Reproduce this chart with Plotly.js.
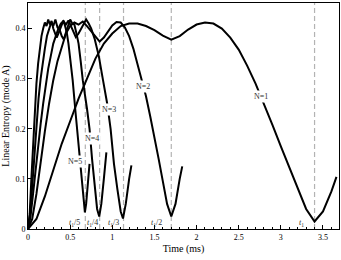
<!DOCTYPE html>
<html><head><meta charset="utf-8">
<script src="https://cdn.plot.ly/plotly-3.0.1.min.js"></script>
<style>html,body{margin:0;padding:0;background:#fff;} #chart{width:341px;height:260px;}</style>
</head><body><div id="chart"></div>
<script>
// Time (ms) and linear entropy values
const t_N1 = [0, 0.1, 0.2, 0.3, 0.4, 0.5, 0.6, 0.7, 0.8, 0.9, 1.0, 1.1, 1.2, 1.3, 1.4, 1.5, 1.6, 1.7, 1.8, 1.9, 2.0, 2.1, 2.2, 2.3, 2.4, 2.5, 2.6, 2.7, 2.8, 2.9, 3.0, 3.1, 3.2, 3.3, 3.4, 3.5, 3.6, 3.66];
const y_N1 = [0, 0.02, 0.065, 0.12, 0.17, 0.215, 0.26, 0.3, 0.34, 0.37, 0.39, 0.405, 0.41, 0.41, 0.405, 0.397, 0.386, 0.378, 0.385, 0.398, 0.408, 0.412, 0.41, 0.4, 0.382, 0.358, 0.326, 0.29, 0.25, 0.208, 0.165, 0.122, 0.08, 0.04, 0.015, 0.035, 0.075, 0.104];

const t_N2 = [0, 0.05, 0.1, 0.15, 0.2, 0.25, 0.3, 0.35, 0.4, 0.45, 0.5, 0.55, 0.6, 0.65, 0.7, 0.75, 0.8, 0.85, 0.9, 0.95, 1.0, 1.05, 1.1, 1.15, 1.2, 1.25, 1.3, 1.35, 1.4, 1.45, 1.5, 1.55, 1.6, 1.65, 1.7, 1.75, 1.8, 1.83];
const y_N2 = [0, 0.02, 0.07, 0.135, 0.195, 0.25, 0.297, 0.335, 0.365, 0.39, 0.405, 0.412, 0.408, 0.414, 0.405, 0.395, 0.383, 0.374, 0.382, 0.395, 0.406, 0.413, 0.412, 0.402, 0.385, 0.36, 0.33, 0.3, 0.265, 0.225, 0.185, 0.14, 0.095, 0.05, 0.025, 0.05, 0.1, 0.125];

const t_N3 = [0, 0.03, 0.06, 0.09, 0.12, 0.15, 0.18, 0.21, 0.24, 0.27, 0.3, 0.33, 0.36, 0.39, 0.42, 0.45, 0.48, 0.51, 0.54, 0.567, 0.6, 0.63, 0.66, 0.69, 0.72, 0.75, 0.79, 0.84, 0.89, 0.94, 0.98, 1.02, 1.06, 1.1, 1.127, 1.16, 1.2, 1.227];
const y_N3 = [0, 0.025, 0.07, 0.12, 0.165, 0.21, 0.25, 0.29, 0.32, 0.345, 0.37, 0.385, 0.4, 0.41, 0.415, 0.408, 0.416, 0.405, 0.395, 0.383, 0.39, 0.4, 0.41, 0.418, 0.41, 0.4, 0.38, 0.345, 0.297, 0.25, 0.2, 0.13, 0.08, 0.035, 0.021, 0.05, 0.1, 0.127];

const t_N4 = [0, 0.025, 0.05, 0.075, 0.1, 0.125, 0.15, 0.175, 0.2, 0.225, 0.25, 0.275, 0.3, 0.325, 0.35, 0.375, 0.4, 0.425, 0.45, 0.475, 0.5, 0.525, 0.55, 0.575, 0.6, 0.625, 0.65, 0.7, 0.73, 0.76, 0.79, 0.82, 0.845, 0.87, 0.9, 0.93];
const y_N4 = [0, 0.03, 0.085, 0.15, 0.21, 0.26, 0.3, 0.335, 0.36, 0.385, 0.4, 0.412, 0.405, 0.418, 0.402, 0.398, 0.385, 0.378, 0.392, 0.405, 0.418, 0.41, 0.408, 0.39, 0.37, 0.335, 0.297, 0.24, 0.2, 0.14, 0.085, 0.04, 0.025, 0.05, 0.1, 0.153];

const t_N5 = [0, 0.02, 0.04, 0.06, 0.08, 0.1, 0.12, 0.14, 0.16, 0.18, 0.2, 0.22, 0.24, 0.26, 0.28, 0.3, 0.32, 0.34, 0.36, 0.38, 0.4, 0.42, 0.44, 0.46, 0.48, 0.5, 0.53, 0.56, 0.59, 0.62, 0.66, 0.675, 0.69, 0.71, 0.73];
const y_N5 = [0, 0.03, 0.1, 0.17, 0.24, 0.29, 0.33, 0.36, 0.385, 0.4, 0.412, 0.405, 0.418, 0.408, 0.415, 0.4, 0.392, 0.382, 0.39, 0.4, 0.41, 0.416, 0.405, 0.392, 0.37, 0.345, 0.297, 0.24, 0.185, 0.12, 0.05, 0.033, 0.05, 0.09, 0.13];

// Reference times: t1 and its fractions
const t1 = 3.4;
const refDivisors = [5, 4, 3, 2, 1];
const refLabels = ['<i>t</i><sub>1</sub>/5', '<i>t</i><sub>1</sub>/4', '<i>t</i><sub>1</sub>/3', '<i>t</i><sub>1</sub>/2', '<i>t</i><sub>1</sub>'];
const refLabelX = [0.553, 0.77, 1.017, 1.53, 3.25];

// Curve labels
const curveLabels = ['N=1', 'N=2', 'N=3', 'N=4', 'N=5'];
const curveLabelX = [2.77, 1.36, 0.96, 0.755, 0.553];
const curveLabelY = [0.264, 0.285, 0.238, 0.18, 0.134];

const FONT = 'Liberation Serif, Times New Roman, serif';

const series = [[t_N1, y_N1], [t_N2, y_N2], [t_N3, y_N3], [t_N4, y_N4], [t_N5, y_N5]];
const traces = series.map(([x, y]) => ({
  x: x, y: y, type: 'scatter', mode: 'lines',
  line: {color: '#000', width: 2}, hoverinfo: 'skip', showlegend: false
}));

const shapes = refDivisors.map(d => ({
  type: 'line', xref: 'x', yref: 'paper', x0: t1 / d, x1: t1 / d, y0: 0, y1: 1,
  line: {color: '#b3b3b3', width: 1.2, dash: '5px,3px'}, layer: 'below'
}));

const annotations = [];
curveLabels.forEach((txt, i) => annotations.push({
  x: curveLabelX[i], y: curveLabelY[i], xref: 'x', yref: 'y', text: txt, showarrow: false,
  font: {family: FONT, size: 8, color: '#333'}, bgcolor: '#fff', borderpad: 1
}));
refLabels.forEach((txt, i) => annotations.push({
  x: refLabelX[i], y: 0.011, xref: 'x', yref: 'y', text: txt, showarrow: false,
  font: {family: FONT, size: 8, color: '#333'}, bgcolor: 'rgba(0,0,0,0)'
}));

const layout = {
  width: 341, height: 260,
  margin: {l: 28, r: 2, t: 3, b: 31},
  paper_bgcolor: '#fff', plot_bgcolor: '#fff',
  font: {family: FONT, size: 8, color: '#000'},
  showlegend: false,
  xaxis: {
    range: [0, 3.69], showgrid: false, zeroline: false,
    showline: true, linecolor: '#000', linewidth: 1, mirror: true,
    ticks: 'inside', ticklen: 4, tickwidth: 1, tickcolor: '#000',
    tickvals: [0, 0.5, 1, 1.5, 2, 2.5, 3, 3.5], ticktext: ['0', '0.5', '1', '1.5', '2', '2.5', '3', '3.5'],
    minor: {dtick: 0.1, ticks: 'inside', ticklen: 2.5, tickcolor: '#000', showgrid: false},
    tickfont: {family: FONT, size: 8},
    title: {text: 'Time (ms)', font: {family: FONT, size: 10}, standoff: 4}
  },
  yaxis: {
    range: [0, 0.451], showgrid: false, zeroline: false,
    showline: true, linecolor: '#000', linewidth: 1, mirror: true,
    ticks: 'inside', ticklen: 4, tickwidth: 1, tickcolor: '#000',
    tickvals: [0, 0.1, 0.2, 0.3, 0.4], ticktext: ['0', '0.1', '0.2', '0.3', '0.4'],
    tickfont: {family: FONT, size: 8},
    title: {text: 'Linear Entropy (mode A)', font: {family: FONT, size: 10}, standoff: 4}
  },
  shapes: shapes,
  annotations: annotations
};

Plotly.newPlot('chart', traces, layout, {staticPlot: true, displayModeBar: false});
</script></body></html>
